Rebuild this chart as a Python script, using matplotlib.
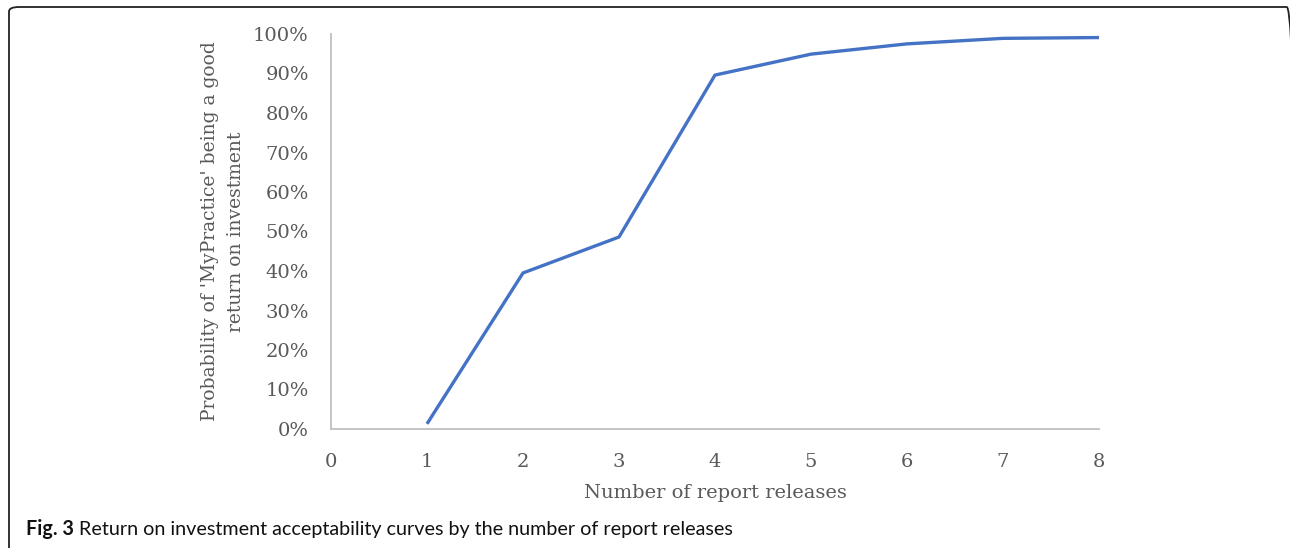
import matplotlib
matplotlib.use("Agg")
import matplotlib.pyplot as plt
from matplotlib.patches import FancyBboxPatch
from matplotlib.ticker import PercentFormatter

# Acceptability of return on investment by number of report releases
releases = [1, 2, 3, 4, 5, 6, 7, 8]
probability = [0.013, 0.395, 0.486, 0.896, 0.949, 0.975, 0.989, 0.991]
x_ticks = [0, 1, 2, 3, 4, 5, 6, 7, 8]
y_ticks = [0.0, 0.1, 0.2, 0.3, 0.4, 0.5, 0.6, 0.7, 0.8, 0.9, 1.0]

W, H = 1290, 548
fig = plt.figure(figsize=(W / 100, H / 100), dpi=100)
fig.patch.set_facecolor("white")

# Rounded frame around the figure (runs past the right and bottom edges)
frame = FancyBboxPatch((9 / W, -30 / H), (1297 - 9) / W, (H + 23) / H,
                       boxstyle="round,pad=0,rounding_size=0.008",
                       transform=fig.transFigure, facecolor="none",
                       edgecolor="#222222", linewidth=1.3, clip_on=False)
fig.patches.append(frame)

ax = fig.add_axes([331 / W, 1 - 429 / H, (1099 - 331) / W, (429 - 34) / H])
ax.plot(releases, probability, color="#4472C4", linewidth=2.4,
        solid_capstyle="butt", solid_joinstyle="round")

ax.set_xlim(0, 8)
ax.set_ylim(0, 1)
ax.set_xticks(x_ticks)
ax.set_yticks(y_ticks)
ax.yaxis.set_major_formatter(PercentFormatter(1.0, decimals=0))

serif = ["DejaVu Serif"]
grey = "#595959"
for side in ("top", "right"):
    ax.spines[side].set_visible(False)
for side in ("left", "bottom"):
    ax.spines[side].set_color("#BFBFBF")
    ax.spines[side].set_linewidth(1.3)
ax.tick_params(length=0, labelsize=14, labelcolor=grey)
ax.tick_params(axis="x", pad=17)
ax.tick_params(axis="y", pad=16)
for lbl in ax.get_xticklabels() + ax.get_yticklabels():
    lbl.set_family(serif)

ax.set_xlabel("Number of report releases", fontsize=14, color=grey,
              family=serif, labelpad=10)
ax.set_ylabel("Probability of 'MyPractice' being a good\nreturn on investment",
              fontsize=13.5, color=grey, family=serif, labelpad=6,
              linespacing=1.55)

# Caption: bold figure number followed by the description
cap = fig.text(26 / W, 1 - 529 / H, "Fig. 3", fontsize=14.2, color="#111111",
               family="Lato", fontweight="bold", va="center", ha="left")
ax.annotate("Return on investment acceptability curves by the number of report releases",
            xy=(1, 0.5), xycoords=cap, xytext=(4, 0), textcoords="offset points",
            fontsize=14.2, color="#111111", family="Lato",
            va="center", ha="left", annotation_clip=False)

fig.savefig("out.png", dpi=100, facecolor="white")
